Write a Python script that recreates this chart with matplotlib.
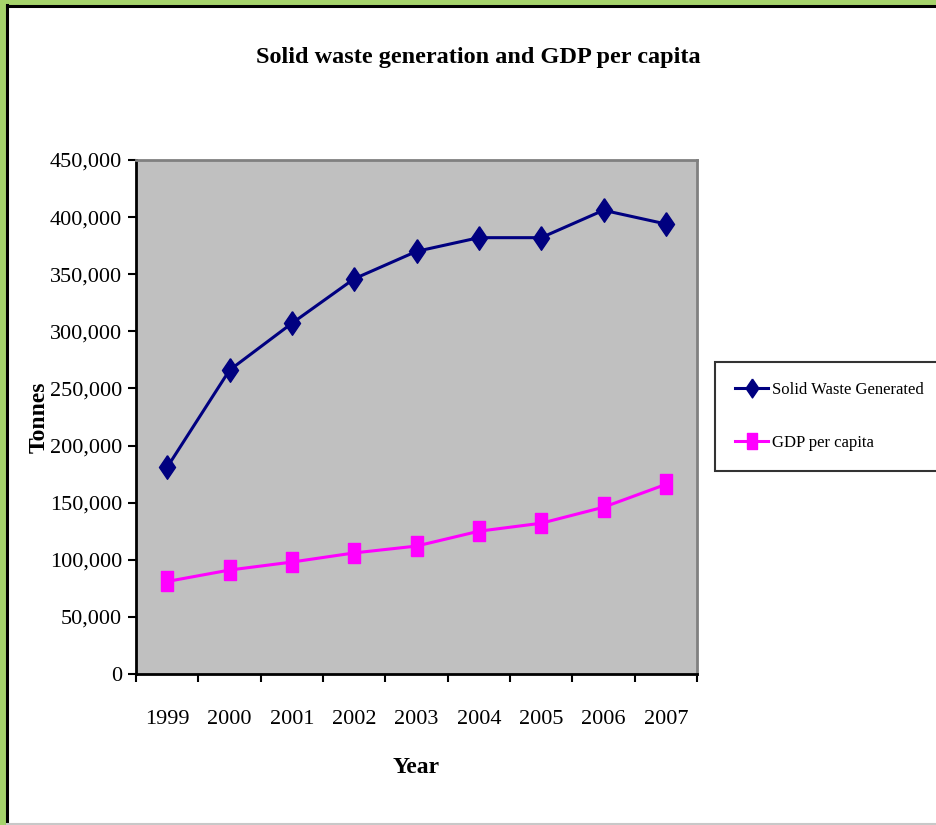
import matplotlib
matplotlib.use("Agg")
import matplotlib.pyplot as plt
from matplotlib.patches import Rectangle
from matplotlib.lines import Line2D
from matplotlib.ticker import FuncFormatter

# data
years = ["1999", "2000", "2001", "2002", "2003", "2004", "2005", "2006", "2007"]
solid_waste = [181000, 266000, 307000, 346000, 370000, 382000, 382000, 406000, 394000]
gdp_per_capita = [81000, 91000, 98000, 106000, 112000, 125000, 132000, 146000, 166000]

plt.rcParams['font.family'] = ['Liberation Serif', 'DejaVu Serif']

# narrow markers (the original looks squeezed sideways)
tall_diamond = [(0, 1), (0.68, 0), (0, -1), (-0.68, 0), (0, 1)]
tall_square = [(-0.6, -1), (0.6, -1), (0.6, 1), (-0.6, 1), (-0.6, -1)]

fig = plt.figure(figsize=(9.36, 8.25), dpi=100)
fig.patch.set_facecolor("white")

# green frame on left and top, thin black inner line
green = "#A5D36B"
fig.add_artist(Rectangle((0, 0), 6/936, 1, transform=fig.transFigure, color=green, zorder=0))
fig.add_artist(Rectangle((0, 1 - 4/825), 1, 4/825, transform=fig.transFigure, color=green, zorder=0))
fig.add_artist(Line2D([7/936, 7/936], [0, 1 - 5/825], transform=fig.transFigure, color="black", lw=2.2))
fig.add_artist(Line2D([7/936, 1], [1 - 6/825, 1 - 6/825], transform=fig.transFigure, color="black", lw=2.2))
fig.add_artist(Line2D([7/936, 1], [1.5/825, 1.5/825], transform=fig.transFigure, color="#c8c8c8", lw=1.5))

ax = fig.add_axes([136/936, 151/825, 561/936, 514/825])
ax.set_facecolor("#C0C0C0")

x = list(range(len(years)))
ax.plot(x, solid_waste, color="#000080", lw=2.2, marker=tall_diamond, markersize=17,
        label="Solid Waste Generated", clip_on=False)
ax.plot(x, gdp_per_capita, color="#FF00FF", lw=2.2, marker=tall_square, markersize=15,
        label="GDP per capita", clip_on=False)

ax.set_xlim(-0.5, len(years) - 0.5)
ax.set_ylim(0, 450000)
ax.set_yticks(range(0, 450001, 50000))
ax.yaxis.set_major_formatter(FuncFormatter(lambda v, p: f"{int(v):,}"))
ax.set_xticks(x)
ax.set_xticklabels(years)
ax.set_xticks([i - 0.5 for i in range(len(years) + 1)], minor=True)
ax.tick_params(axis="x", which="major", length=0, pad=26, labelsize=16)
ax.tick_params(axis="x", which="minor", length=6, width=1.5, direction="out")
ax.tick_params(axis="y", length=6, width=1.5, direction="out", pad=4, labelsize=16)

for side in ["left", "bottom"]:
    ax.spines[side].set_color("black")
    ax.spines[side].set_linewidth(2)
for side in ["top", "right"]:
    ax.spines[side].set_color("#808080")
    ax.spines[side].set_linewidth(2)

ax.set_xlabel("Year", fontsize=17, fontweight="bold", labelpad=20)
ax.set_ylabel("Tonnes", fontsize=17, fontweight="bold", labelpad=0)
fig.text(478/936, 1 - 58/825, "Solid waste generation and GDP per capita",
         ha="center", va="center", fontsize=17.5, fontweight="bold")

leg = ax.legend(loc="upper left", bbox_to_anchor=(715/936, 1 - 362/825),
                bbox_transform=fig.transFigure, fontsize=12, frameon=True,
                fancybox=False, edgecolor="black", handlelength=2.0,
                labelspacing=2.2, borderpad=1.2, handletextpad=0.2,
                borderaxespad=0, markerscale=0.8)
leg.get_frame().set_linewidth(1.5)

fig.savefig("out.png", dpi=100)
